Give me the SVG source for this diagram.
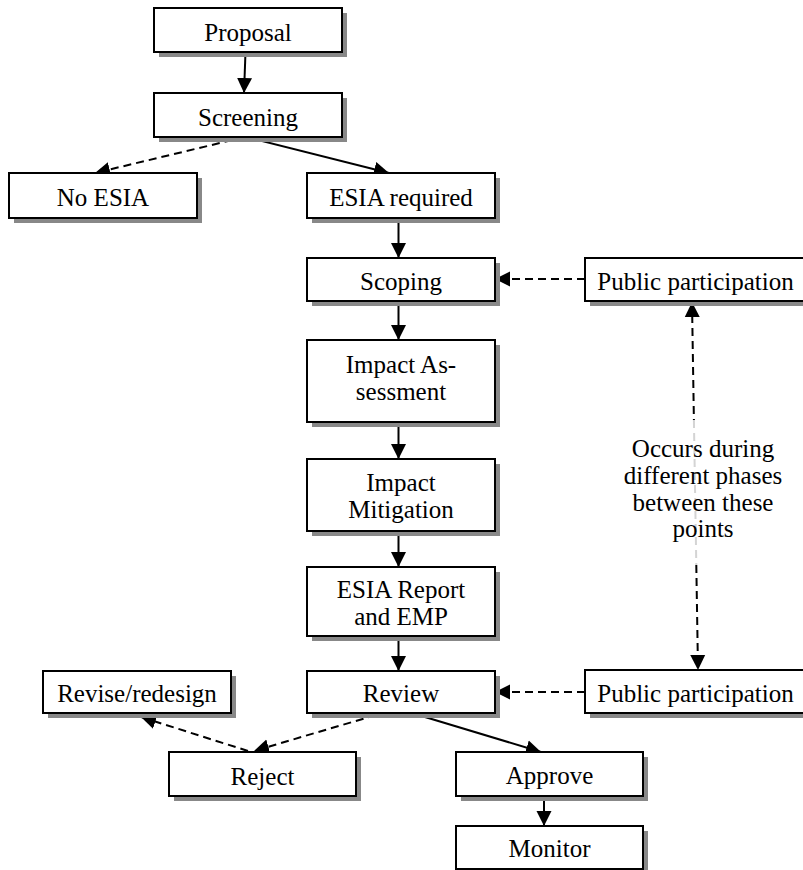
<svg xmlns="http://www.w3.org/2000/svg" width="803" height="870" viewBox="0 0 803 870">
<defs>
<marker id="ah" markerUnits="userSpaceOnUse" markerWidth="16" markerHeight="16" refX="15" refY="7.5" orient="auto-start-reverse" viewBox="0 0 16 15">
<path d="M0,0 L15,7.5 L0,15 z" fill="#000"/>
</marker>
</defs>
<style>
.sh{fill:#888;stroke:none}
.bx{fill:#fff;stroke:#000;stroke-width:2}
text{font-family:"Liberation Serif","Times New Roman",serif;font-size:25px;fill:#000;text-anchor:middle}
.ln{fill:none;stroke:#000;stroke-width:2}
.ds{fill:none;stroke:#000;stroke-width:2;stroke-dasharray:8 5}
.gr{fill:none;stroke:#d4d4d4;stroke-width:2;stroke-dasharray:8 5}
.a{marker-end:url(#ah)}
.b{marker-start:url(#ah)}
</style>
<rect width="803" height="870" fill="#fff"/>
<g id="connectors">
<line class="ln a" x1="245.5" y1="52" x2="244" y2="93"/>
<line class="ds a" x1="245" y1="137" x2="95" y2="173"/>
<line class="ln a" x1="246" y1="137" x2="389" y2="173"/>
<line class="ln a" x1="398.5" y1="218" x2="398.5" y2="258"/>
<line class="ln a" x1="398.5" y1="301" x2="398.5" y2="340"/>
<line class="ln a" x1="398.5" y1="422" x2="398.5" y2="459"/>
<line class="ln a" x1="398.5" y1="531" x2="398.5" y2="567"/>
<line class="ln a" x1="398.5" y1="636" x2="398.5" y2="671"/>
<line class="ds a" x1="585" y1="279" x2="495" y2="279"/>
<line class="ds a" x1="585" y1="692" x2="495" y2="692"/>
<line class="ds a" x1="376" y1="715" x2="254" y2="751"/>
<line class="ds a" x1="248" y1="751" x2="141" y2="717"/>
<line class="ln a" x1="415" y1="714" x2="541" y2="752"/>
<line class="ln a" x1="544" y1="796" x2="544" y2="826"/>
<line class="ds b" x1="692" y1="302" x2="693.9" y2="420"/>
<line class="gr" x1="693.9" y1="420" x2="696.3" y2="565"/>
<line class="ds a" x1="696.3" y1="565" x2="698" y2="670"/>
</g>
<g id="proposal"><rect class="sh" x="159" y="13" width="188" height="44"/><rect class="bx" x="154" y="8" width="188" height="44"/><text x="248" y="41">Proposal</text></g>
<g id="screening"><rect class="sh" x="159" y="98" width="188" height="44"/><rect class="bx" x="154" y="93" width="188" height="44"/><text x="248" y="125.5">Screening</text></g>
<g id="no-esia"><rect class="sh" x="14" y="178" width="188" height="45"/><rect class="bx" x="9" y="173" width="188" height="45"/><text x="103" y="206">No ESIA</text></g>
<g id="esia-required"><rect class="sh" x="312" y="178" width="188" height="45"/><rect class="bx" x="307" y="173" width="188" height="45"/><text x="401" y="206">ESIA required</text></g>
<g id="scoping"><rect class="sh" x="312" y="263" width="188" height="43"/><rect class="bx" x="307" y="258" width="188" height="43"/><text x="401" y="290">Scoping</text></g>
<g id="public-participation-1"><rect class="sh" x="590" y="263" width="220" height="43"/><rect class="bx" x="585" y="258" width="220" height="43"/><text x="695.5" y="290">Public participation</text></g>
<g id="impact-assessment"><rect class="sh" x="312" y="345" width="188" height="82"/><rect class="bx" x="307" y="340" width="188" height="82"/><text x="401" y="372.5">Impact As-</text><text x="401" y="400">sessment</text></g>
<g id="impact-mitigation"><rect class="sh" x="312" y="464" width="188" height="72"/><rect class="bx" x="307" y="459" width="188" height="72"/><text x="401" y="491">Impact</text><text x="401" y="518">Mitigation</text></g>
<g id="esia-report"><rect class="sh" x="312" y="572" width="188" height="69"/><rect class="bx" x="307" y="567" width="188" height="69"/><text x="401" y="598">ESIA Report</text><text x="401" y="625">and EMP</text></g>
<g id="review"><rect class="sh" x="312" y="676" width="188" height="42"/><rect class="bx" x="307" y="671" width="188" height="42"/><text x="401" y="702">Review</text></g>
<g id="public-participation-2"><rect class="sh" x="590" y="675" width="220" height="43"/><rect class="bx" x="585" y="670" width="220" height="43"/><text x="695.5" y="702">Public participation</text></g>
<g id="revise-redesign"><rect class="sh" x="48" y="676" width="188" height="42"/><rect class="bx" x="43" y="671" width="188" height="42"/><text x="137" y="702">Revise/redesign</text></g>
<g id="reject"><rect class="sh" x="174" y="757" width="187" height="44"/><rect class="bx" x="169" y="752" width="187" height="44"/><text x="262.5" y="785">Reject</text></g>
<g id="approve"><rect class="sh" x="461" y="757" width="187" height="44"/><rect class="bx" x="456" y="752" width="187" height="44"/><text x="549.5" y="784">Approve</text></g>
<g id="monitor"><rect class="sh" x="461" y="831" width="187" height="43"/><rect class="bx" x="456" y="826" width="187" height="43"/><text x="549.5" y="857">Monitor</text></g>
<g id="note"><text x="703" y="457">Occurs during</text><text x="703" y="484">different phases</text><text x="703" y="511">between these</text><text x="703" y="537">points</text></g>
</svg>
